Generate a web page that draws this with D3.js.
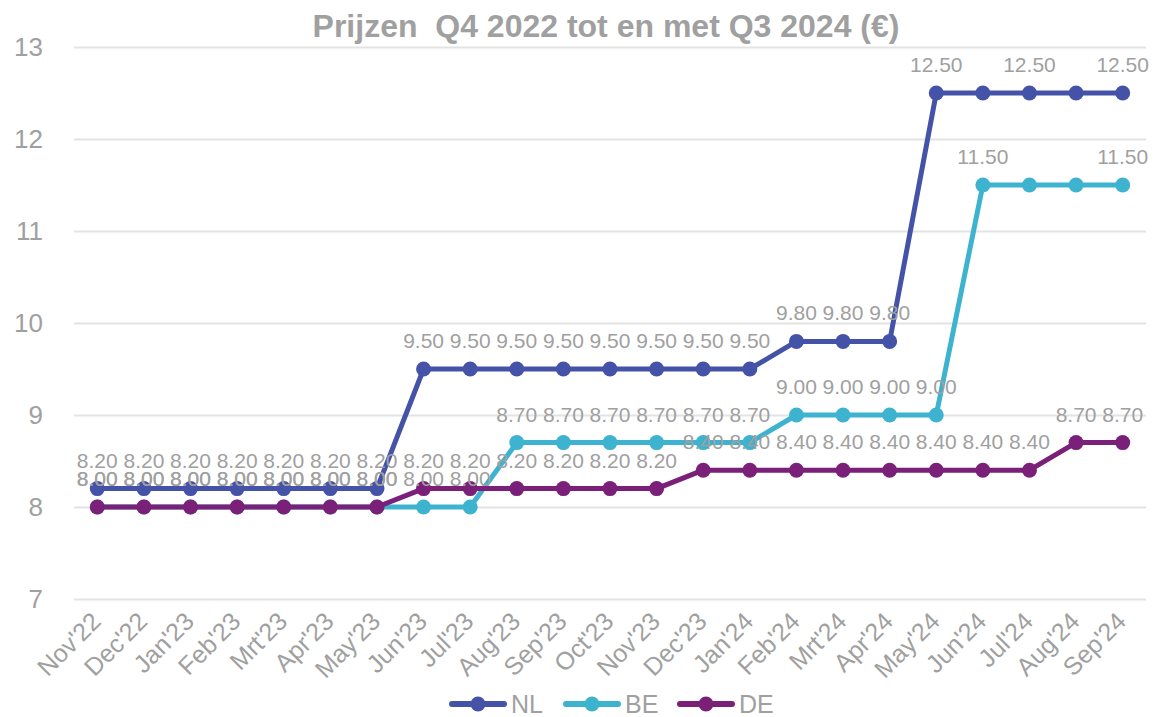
<!DOCTYPE html>
<html>
<head>
<meta charset="utf-8">
<script src="https://cdn.jsdelivr.net/npm/d3@7"></script>
<style>
  body { margin: 0; background: #fff; }
  svg { font-family: "Liberation Sans", Arial, sans-serif; }
</style>
</head>
<body>
<svg id="chart" width="1156" height="717"></svg>
<script>
// months on the x axis
const months = ["Nov'22", "Dec'22", "Jan'23", "Feb'23", "Mrt'23", "Apr'23", "May'23", "Jun'23",
  "Jul'23", "Aug'23", "Sep'23", "Oct'23", "Nov'23", "Dec'23", "Jan'24", "Feb'24", "Mrt'24",
  "Apr'24", "May'24", "Jun'24", "Jul'24", "Aug'24", "Sep'24"];

const nlValues = [8.2, 8.2, 8.2, 8.2, 8.2, 8.2, 8.2, 9.5, 9.5, 9.5, 9.5, 9.5, 9.5, 9.5, 9.5,
  9.8, 9.8, 9.8, 12.5, 12.5, 12.5, 12.5, 12.5];
const beValues = [8.0, 8.0, 8.0, 8.0, 8.0, 8.0, 8.0, 8.0, 8.0, 8.7, 8.7, 8.7, 8.7, 8.7, 8.7,
  9.0, 9.0, 9.0, 9.0, 11.5, 11.5, 11.5, 11.5];
const deValues = [8.0, 8.0, 8.0, 8.0, 8.0, 8.0, 8.0, 8.2, 8.2, 8.2, 8.2, 8.2, 8.2, 8.4, 8.4,
  8.4, 8.4, 8.4, 8.4, 8.4, 8.4, 8.7, 8.7];

// points whose value label is not shown in the original
const nlHiddenLabels = [19, 21];
const beHiddenLabels = [20, 21];
const deHiddenLabels = [];

const yTicks = [7, 8, 9, 10, 11, 12, 13];
const seriesNames = ["NL", "BE", "DE"];
const seriesColors = ["#4453a7", "#3db3d0", "#7b2079"];

const series = [
  {name: seriesNames[0], color: seriesColors[0], values: nlValues, hidden: nlHiddenLabels},
  {name: seriesNames[1], color: seriesColors[1], values: beValues, hidden: beHiddenLabels},
  {name: seriesNames[2], color: seriesColors[2], values: deValues, hidden: deHiddenLabels}
];

const svg = d3.select("#chart");
const margin = {left: 74, right: 10, top: 47, bottom: 118};
const width = 1156, height = 717;
const textGray = "#a0a0a0";
const fontFam = "Liberation Sans, Arial, sans-serif";

const x = d3.scaleBand().domain(months)
  .range([margin.left, width - margin.right]);
const y = d3.scaleLinear().domain([7, 13])
  .range([height - margin.bottom, margin.top]);
const cx = d => x(d) + x.bandwidth() / 2;

// title
svg.append("text")
  .attr("x", 606).attr("y", 37)
  .attr("text-anchor", "middle")
  .attr("font-size", 32).attr("font-weight", "bold")
  .attr("fill", textGray)
  .attr("xml:space", "preserve")
  .text("Prijzen  Q4 2022 tot en met Q3 2024 (€)");

// gridlines + y labels
const yAxis = svg.append("g")
  .attr("transform", `translate(${margin.left},0)`)
  .call(d3.axisLeft(y).tickValues(yTicks).tickFormat(d3.format("d"))
    .tickSize(-(width - margin.left - margin.right)).tickPadding(31));
yAxis.select(".domain").remove();
yAxis.selectAll(".tick line").attr("stroke", "#e3e3e3").attr("stroke-width", 2);
yAxis.selectAll(".tick text")
  .attr("fill", textGray).attr("font-size", 26)
  .attr("font-family", fontFam);

// x labels, rotated
const xAxis = svg.append("g")
  .attr("transform", `translate(0,${height - margin.bottom})`)
  .call(d3.axisBottom(x).tickSize(0).tickPadding(0));
xAxis.select(".domain").remove();
xAxis.selectAll(".tick text")
  .attr("fill", textGray).attr("font-size", 25)
  .attr("font-family", fontFam)
  .attr("text-anchor", "end")
  .attr("dy", 0)
  .attr("y", 0)
  .attr("transform", "translate(5,24) rotate(-45)");

const line = d3.line()
  .x((d, i) => cx(months[i]))
  .y(d => y(d));

const plot = svg.append("g");
series.forEach(s => {
  plot.append("path")
    .datum(s.values)
    .attr("fill", "none")
    .attr("stroke", s.color)
    .attr("stroke-width", 5)
    .attr("stroke-linejoin", "round")
    .attr("d", line);
  plot.selectAll(null)
    .data(s.values)
    .join("circle")
    .attr("cx", (d, i) => cx(months[i]))
    .attr("cy", d => y(d))
    .attr("r", 7.5)
    .attr("fill", s.color);
});

// data labels above each point
series.forEach(s => {
  svg.append("g").selectAll("text")
    .data(s.values.map((v, i) => ({v, i})).filter(d => !s.hidden.includes(d.i)))
    .join("text")
    .attr("x", d => cx(months[d.i]))
    .attr("y", d => y(d.v) - 21)
    .attr("text-anchor", "middle")
    .attr("font-size", 21)
    .attr("fill", textGray)
    .text(d => d.v.toFixed(2));
});

// legend
const legendX = [450, 564, 678];
const legend = svg.append("g").selectAll("g")
  .data(series)
  .join("g")
  .attr("transform", (d, i) => `translate(${legendX[i]},704)`);
legend.append("line")
  .attr("x1", 2).attr("x2", 54)
  .attr("stroke", d => d.color).attr("stroke-width", 6)
  .attr("stroke-linecap", "round");
legend.append("circle")
  .attr("cx", 28).attr("r", 7.5)
  .attr("fill", d => d.color);
legend.append("text")
  .attr("x", 61).attr("y", 9)
  .attr("font-size", 25)
  .attr("fill", textGray)
  .text(d => d.name);
</script>
</body>
</html>
